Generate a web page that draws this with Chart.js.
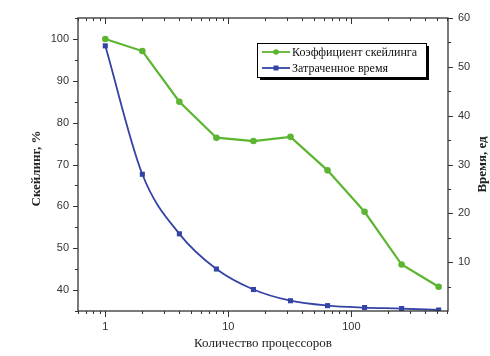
<!DOCTYPE html>
<html lang="ru">
<head>
<meta charset="UTF-8">
<title>Скейлинг</title>
<script src="https://cdn.jsdelivr.net/npm/chart.js@4.4.0/dist/chart.umd.min.js"></script>
<style>
  html, body { margin: 0; padding: 0; background: #fff; }
  #wrap { width: 490px; height: 356px; }
</style>
</head>
<body>
<div id="wrap"><canvas id="chart" width="490" height="356"></canvas></div>
<script>
// data
const processors = [1, 2, 4, 8, 16, 32, 64, 128, 256, 512];
const scaling = [100, 97.1, 85.0, 76.4, 75.6, 76.6, 68.6, 58.7, 46.1, 40.8];
const timeSpent = [54.3, 28.0, 15.8, 8.6, 4.4, 2.1, 1.1, 0.7, 0.5, 0.2];

// tick labels
const xLabels = [1, 10, 100];
const xMinor = [0.6, 0.7, 0.8, 0.9, 2, 3, 4, 5, 6, 7, 8, 9, 20, 30, 40, 50, 60, 70, 80, 90, 200, 300, 400, 500, 600];
const leftLabels = [40, 50, 60, 70, 80, 90, 100];
const leftMinor = [35, 45, 55, 65, 75, 85, 95, 105];
const rightLabels = [10, 20, 30, 40, 50, 60];
const rightMinor = [5, 15, 25, 35, 45, 55];

const GREEN = '#5cb531';
const BLUE = '#3343a6';
const AXIS = '#333';

// frame, tick marks, axis titles and the boxed legend
const decorPlugin = {
  id: 'decor',
  afterDraw(chart) {
    const ctx = chart.ctx;
    const a = chart.chartArea;
    const sx = chart.scales.x, sy = chart.scales.y, sy2 = chart.scales.y2;
    ctx.save();
    ctx.strokeStyle = AXIS;
    ctx.lineWidth = 1.3;
    ctx.strokeRect(a.left, a.top, a.right - a.left, a.bottom - a.top);

    ctx.lineWidth = 1;
    ctx.beginPath();
    const tx = (v, len) => {
      const p = Math.round(sx.getPixelForValue(v)) + 0.5;
      ctx.moveTo(p, a.bottom); ctx.lineTo(p, a.bottom + len);
      ctx.moveTo(p, a.top); ctx.lineTo(p, a.top + len);
    };
    xLabels.forEach(v => tx(v, 6));
    xMinor.forEach(v => tx(v, 3));
    const tl = (v, len) => {
      const p = Math.round(sy.getPixelForValue(v)) + 0.5;
      ctx.moveTo(a.left, p); ctx.lineTo(a.left - len, p);
    };
    leftLabels.forEach(v => tl(v, 5));
    leftMinor.forEach(v => tl(v, 3));
    const tr = (v, len) => {
      const p = Math.round(sy2.getPixelForValue(v)) + 0.5;
      ctx.moveTo(a.right, p); ctx.lineTo(a.right + len, p);
    };
    rightLabels.forEach(v => tr(v, 5));
    rightMinor.forEach(v => tr(v, 3));
    ctx.stroke();

    // axis titles
    ctx.fillStyle = '#222';
    ctx.textAlign = 'center';
    ctx.textBaseline = 'middle';
    const cy = (a.top + a.bottom) / 2;
    ctx.font = 'bold 13px "Liberation Serif"';
    ctx.save();
    ctx.translate(37, cy + 4);
    ctx.rotate(-Math.PI / 2);
    ctx.fillText('Скейлинг, %', 0, 0);
    ctx.restore();
    ctx.save();
    ctx.translate(483, cy);
    ctx.rotate(-Math.PI / 2);
    ctx.fillText('Время, ед', 0, 0);
    ctx.restore();
    ctx.font = '13px "Liberation Serif"';
    ctx.fillText('Количество процессоров', (a.left + a.right) / 2, 344);

    // legend box with shadow
    const lx = 257, ly = 43, lw = 169, lh = 34;
    ctx.fillStyle = '#000';
    ctx.fillRect(lx + 3, ly + 3, lw, lh);
    ctx.fillStyle = '#fff';
    ctx.fillRect(lx, ly, lw, lh);
    ctx.strokeStyle = '#000';
    ctx.lineWidth = 1;
    ctx.strokeRect(lx + 0.5, ly + 0.5, lw, lh);
    const rows = [
      { text: 'Коэффициент скейлинга', color: GREEN, shape: 'circle' },
      { text: 'Затраченное время', color: BLUE, shape: 'square' }
    ];
    rows.forEach((r, i) => {
      const y = ly + 9 + i * 16;
      ctx.strokeStyle = r.color;
      ctx.lineWidth = 1.8;
      ctx.beginPath();
      ctx.moveTo(lx + 5, y); ctx.lineTo(lx + 33, y);
      ctx.stroke();
      ctx.fillStyle = r.color;
      if (r.shape === 'circle') {
        ctx.beginPath(); ctx.arc(lx + 19, y, 2.8, 0, Math.PI * 2); ctx.fill();
      } else {
        ctx.fillRect(lx + 16.5, y - 2.5, 5, 5);
      }
      ctx.fillStyle = '#111';
      ctx.textAlign = 'left';
      ctx.font = '12px "Liberation Serif"';
      ctx.fillText(r.text, lx + 35, y + 0.5);
    });
    ctx.restore();
  }
};

const tickFont = { family: 'Arial', size: 11 };

new Chart(document.getElementById('chart'), {
  type: 'line',
  data: {
    datasets: [
      {
        label: 'Коэффициент скейлинга',
        data: processors.map((p, i) => ({ x: p, y: scaling[i] })),
        yAxisID: 'y',
        borderColor: GREEN,
        backgroundColor: GREEN,
        borderWidth: 2.2,
        pointRadius: 3.3,
        pointBorderWidth: 0,
        pointStyle: 'circle',
        tension: 0
      },
      {
        label: 'Затраченное время',
        data: processors.map((p, i) => ({ x: p, y: timeSpent[i] })),
        yAxisID: 'y2',
        borderColor: BLUE,
        backgroundColor: BLUE,
        borderWidth: 1.8,
        pointRadius: 3.6,
        pointBorderWidth: 0,
        pointStyle: 'rect',
        cubicInterpolationMode: 'monotone'
      }
    ]
  },
  options: {
    responsive: false,
    animation: false,
    layout: { padding: { top: 18, left: 0, right: 0, bottom: 0 } },
    plugins: { legend: { display: false }, tooltip: { enabled: false } },
    scales: {
      x: {
        type: 'logarithmic',
        position: 'bottom',
        min: 0.6,
        max: 610,
        afterBuildTicks: s => { s.ticks = xLabels.map(v => ({ value: v })); },
        afterFit: s => { s.height = 45; },
        grid: { display: false, drawTicks: true, tickLength: 6 },
        border: { display: false },
        ticks: { autoSkip: false, maxRotation: 0, padding: 3, color: AXIS, font: tickFont, callback: v => String(v) }
      },
      y: {
        type: 'linear',
        position: 'left',
        min: 35,
        max: 105,
        afterBuildTicks: s => { s.ticks = leftLabels.map(v => ({ value: v })); },
        afterFit: s => { s.width = 78; },
        grid: { display: false, drawTicks: true, tickLength: 5 },
        border: { display: false },
        ticks: { padding: 4, color: AXIS, font: tickFont, callback: v => String(v) }
      },
      y2: {
        type: 'linear',
        position: 'right',
        min: 0,
        max: 60,
        afterBuildTicks: s => { s.ticks = rightLabels.map(v => ({ value: v })); },
        afterFit: s => { s.width = 42; },
        grid: { display: false, drawTicks: true, tickLength: 5 },
        border: { display: false },
        ticks: { padding: 5, color: AXIS, font: tickFont, callback: v => String(v) }
      }
    }
  },
  plugins: [decorPlugin]
});
</script>
</body>
</html>
